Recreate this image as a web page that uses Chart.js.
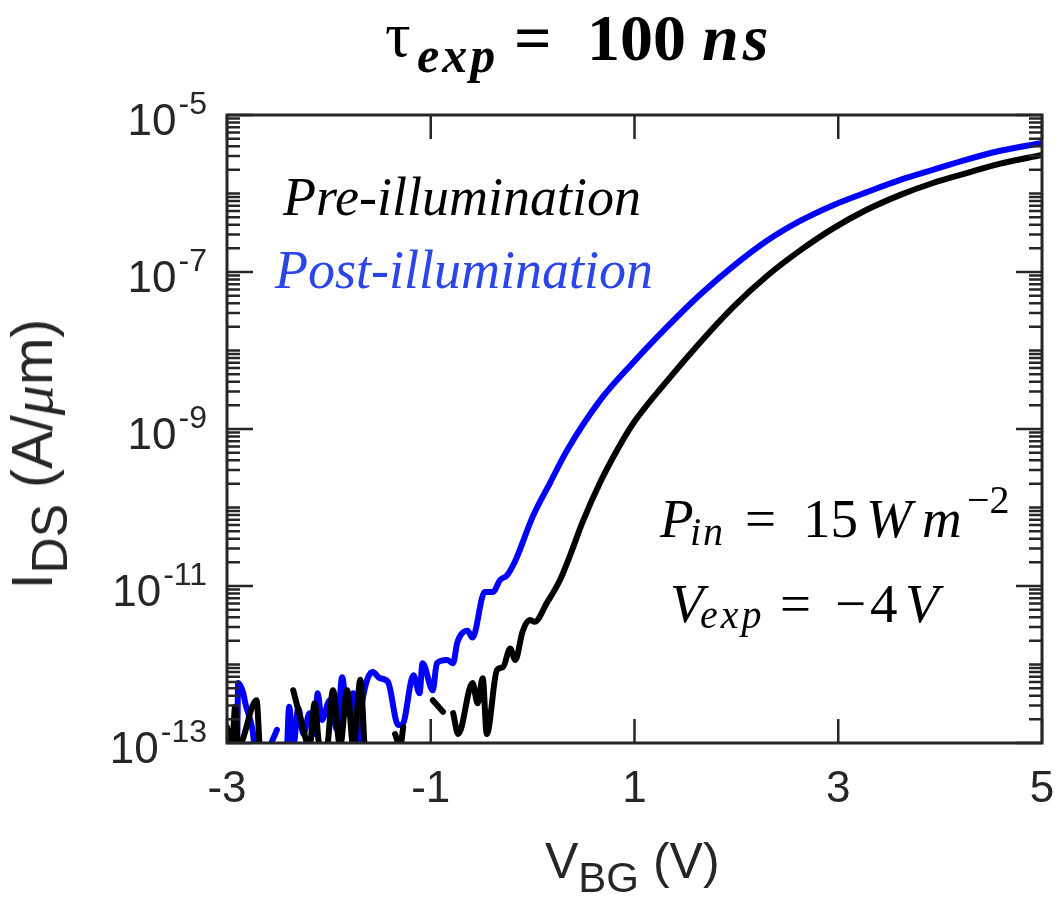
<!DOCTYPE html>
<html>
<head>
<meta charset="utf-8">
<script src="https://cdn.jsdelivr.net/npm/chart.js@4/dist/chart.umd.min.js"></script>
<style>
  body { margin: 0; background: #fff; }
  #wrap { position: relative; width: 1056px; height: 906px; overflow: hidden; }
  canvas { position: absolute; left: 0; top: 0; }
  .txt { position: absolute; white-space: nowrap; line-height: 1; }
  .sans { font-family: "Liberation Sans", Arial, sans-serif; color: #262626; }
  sub, sup { line-height: 0; }
</style>
</head>
<body>
<div id="wrap">
  <canvas id="chart" width="1056" height="906"></canvas>
  <div class="txt sans" style="left:545px; top:836px; font-size:50px;">V<sub style="font-size:42px; vertical-align:-14px;">BG</sub> (V)</div>
  <div class="txt sans" style="left:32px; top:454px; font-size:57px; transform: translate(-50%,-50%) rotate(-90deg);">I<sub style="font-size:50px; vertical-align:-15px;">DS</sub> (A/<i style="font-family:'Liberation Serif',serif; font-size:60px;">μ</i>m)</div>
</div>

<script>
// Pre-illumination (black) : gate voltage (V) and drain current (A/um)
const preV = [-3.00, -2.95, -2.92, -2.89, -2.71, -2.68, -2.50, -2.35, -2.28, -2.19,
  -2.14, -2.09, -2.02, -1.96, -1.89, -1.82, -1.76, -1.69, -1.65, -1.50,
  -1.35, -1.30, -1.27, -1.12, -0.98, -0.88, -0.83, -0.78, -0.73, -0.59,
  -0.54, -0.49, -0.45, -0.35, -0.29, -0.22, -0.17, -0.10, -0.03, 0.02,
  0.14, 0.27, 0.37, 0.49, 0.66, 0.83, 0.99, 1.32, 1.64, 1.97,
  2.30, 2.63, 2.95, 3.28, 3.61, 3.93, 4.26, 4.59, 5.00];
const preI = [1.6e-13, 9e-14, 2.9e-13, 9e-14, 3.5e-13, 9e-14, null, 4.7e-13, 2.1e-13, 9e-14,
  3.2e-13, 9e-14, 9e-14, 4.7e-13, 9e-14, 4.7e-13, 9e-14, 6.4e-13, 9e-14, null,
  1.3e-13, 9e-14, 1.6e-13, null, 3.5e-13, 2.5e-13, null, 2.4e-13, 1.3e-13, 5.8e-13,
  3.2e-13, 6.7e-13, 1.3e-13, 8.5e-13, 9.3e-13, 1.6e-12, 1.14e-12, 2.6e-12, 3.7e-12, 3.5e-12,
  6.1e-12, 1.2e-11, 2.5e-11, 6.5e-11, 2.05e-10, 5.4e-10, 1.19e-9, 4.1e-9, 1.25e-8, 3.6e-8,
  8.9e-8, 1.9e-7, 3.6e-7, 6.2e-7, 9.6e-7, 1.36e-6, 1.82e-6, 2.4e-6, 3.1e-6];

// Post-illumination (blue)
const postV = [-2.90, -2.89, -2.84, -2.82, -2.75, -2.73, -2.62, -2.58, -2.51, -2.46,
  -2.41, -2.39, -2.35, -2.30, -2.25, -2.19, -2.14, -2.11, -2.07, -1.99,
  -1.92, -1.87, -1.82, -1.76, -1.72, -1.67, -1.57, -1.50, -1.42, -1.32,
  -1.28, -1.17, -1.11, -1.08, -0.98, -0.94, -0.84, -0.78, -0.74, -0.64,
  -0.59, -0.47, -0.39, -0.32, -0.25, -0.17, 0.00, 0.17, 0.34, 0.66,
  0.99, 1.32, 1.64, 1.97, 2.30, 2.63, 2.95, 3.28, 3.61, 3.93,
  4.26, 4.59, 5.00];
const postI = [9e-14, 5.8e-13, 4.3e-13, 3.2e-13, 1.47e-13, 9e-14, null, 9e-14, 1.47e-13, null,
  9e-14, 2.9e-13, 9e-14, 2.8e-13, 1.3e-13, 2.4e-13, 1.3e-13, 4.3e-13, 1.96e-13, 3.5e-13,
  1.47e-13, 6.9e-13, 2.4e-13, 4.3e-13, 9e-14, 3.5e-13, 8.0e-13, 6.7e-13, 6.0e-13, 1.7e-13,
  1.7e-13, 7.3e-13, 4.3e-13, 1.04e-12, 4.7e-13, 1.04e-12, 1.14e-12, 1.04e-12, 1.9e-12, 2.7e-12,
  2.2e-12, 8.4e-12, 8.4e-12, 1.19e-11, 1.38e-11, 2.1e-11, 7.6e-11, 2.05e-10, 5.4e-10, 2.3e-9,
  7.1e-9, 2.0e-8, 5.1e-8, 1.19e-7, 2.5e-7, 4.5e-7, 7.1e-7, 1.04e-6, 1.49e-6, 2.0e-6,
  2.7e-6, 3.5e-6, 4.4e-6];

// Axis ticks
const xTicks = [-3, -1, 1, 3, 5];
const xTickLabels = ['-3', '-1', '1', '3', '5'];
const yMajorExps = [-13, -11, -9, -7, -5];
const yTickLabels = ['-13', '-11', '-9', '-7', '-5'];

const axisColor = '#262626';
const wrap = document.getElementById('wrap');

// place a text piece with its baseline at y (Liberation Serif metrics)
function piece(text, x, baseline, size, opts) {
  opts = opts || {};
  const d = document.createElement('div');
  d.className = 'txt';
  d.textContent = text;
  d.style.fontFamily = '"Liberation Serif", "DejaVu Serif", serif';
  d.style.fontSize = size + 'px';
  d.style.left = x + 'px';
  d.style.top = (baseline - 0.8375 * size) + 'px';
  d.style.color = opts.color || '#000';
  if (opts.italic) d.style.fontStyle = 'italic';
  if (opts.bold) d.style.fontWeight = 'bold';
  if (opts.spacing) d.style.letterSpacing = opts.spacing + 'px';
  wrap.appendChild(d);
}

// title
piece('τ', 385, 57, 64);
piece('exp', 417, 72, 50, { bold: true, italic: true, spacing: 3 });
piece('=', 514, 60, 66, { bold: true });
piece('100', 587, 60, 66, { bold: true });
piece('ns', 702, 60, 66, { bold: true, italic: true, spacing: 4 });

// legend texts
piece('Pre-illumination', 283, 215, 54, { italic: true });
piece('Post-illumination', 275, 288, 54, { italic: true, color: '#2a45e8' });

// annotations
piece('P', 660, 537, 55, { italic: true });
piece('in', 690, 545, 40, { italic: true, spacing: 2 });
piece('=', 745, 537, 55);
piece('15', 803, 537, 55);
piece('W', 866, 537, 55, { italic: true });
piece('m', 922, 537, 55, { italic: true });
piece('−2', 967, 513, 40);

piece('V', 670, 622, 55, { italic: true });
piece('exp', 700, 628, 40, { italic: true, spacing: 3 });
piece('=', 780, 622, 55);
piece('−4', 835, 622, 55, { spacing: 4 });
piece('V', 905, 622, 55, { italic: true });

function toPoints(xs, ys) {
  return xs.map((x, i) => ({ x: x, y: ys[i] }));
}

// Box, inward ticks on all four sides and tick labels
const axesPlugin = {
  id: 'matlabAxes',
  afterDatasetsDraw(chart) {
    const ctx = chart.ctx;
    const a = chart.chartArea;
    const xs = chart.scales.x;
    const ys = chart.scales.y;
    ctx.save();
    ctx.strokeStyle = axisColor;
    ctx.lineWidth = 2.5;

    // x ticks (bottom and top)
    xTicks.forEach(v => {
      const px = xs.getPixelForValue(v);
      ctx.beginPath();
      ctx.moveTo(px, a.bottom); ctx.lineTo(px, a.bottom - 24);
      ctx.moveTo(px, a.top); ctx.lineTo(px, a.top + 24);
      ctx.stroke();
    });

    // y ticks (left and right)
    for (let e = -13; e <= -5; e++) {
      const major = yMajorExps.includes(e);
      const py = ys.getPixelForValue(Math.pow(10, e));
      const len = major ? 26 : 13;
      ctx.beginPath();
      ctx.moveTo(a.left, py); ctx.lineTo(a.left + len, py);
      ctx.moveTo(a.right, py); ctx.lineTo(a.right - len, py);
      ctx.stroke();
      if (e === -5) break;
      for (let k = 2; k <= 9; k++) {
        const pm = ys.getPixelForValue(k * Math.pow(10, e));
        ctx.beginPath();
        ctx.moveTo(a.left, pm); ctx.lineTo(a.left + 13, pm);
        ctx.moveTo(a.right, pm); ctx.lineTo(a.right - 13, pm);
        ctx.stroke();
      }
    }

    // frame
    ctx.lineWidth = 3;
    ctx.strokeRect(a.left, a.top, a.right - a.left, a.bottom - a.top);

    // tick labels
    ctx.fillStyle = axisColor;
    ctx.font = '44px "Liberation Sans", Arial, sans-serif';
    ctx.textAlign = 'center';
    ctx.textBaseline = 'middle';
    xTicks.forEach((v, i) => {
      ctx.fillText(xTickLabels[i], xs.getPixelForValue(v), a.bottom + 47);
    });

    yMajorExps.forEach((e, i) => {
      const py = ys.getPixelForValue(Math.pow(10, e));
      const right = a.left - 20;
      ctx.font = '32px "Liberation Sans", Arial, sans-serif';
      const supW = ctx.measureText(yTickLabels[i]).width;
      ctx.textAlign = 'right';
      ctx.fillText(yTickLabels[i], right, py - 10);
      ctx.font = '44px "Liberation Sans", Arial, sans-serif';
      ctx.fillText('10', right - supW - 2, py + 8);
    });
    ctx.restore();
  }
};

new Chart(document.getElementById('chart'), {
  type: 'line',
  data: {
    datasets: [
      {
        label: 'Pre-illumination',
        data: toPoints(preV, preI),
        borderColor: '#000000',
        borderWidth: 6,
        pointRadius: 0,
        spanGaps: false,
        clip: 0
      },
      {
        label: 'Post-illumination',
        data: toPoints(postV, postI),
        borderColor: '#0000ff',
        borderWidth: 6,
        pointRadius: 0,
        spanGaps: false,
        clip: 0
      }
    ]
  },
  options: {
    responsive: false,
    animation: false,
    layout: { padding: { left: 227, right: 14, top: 115, bottom: 163 } },
    scales: {
      x: { type: 'linear', min: -3, max: 5, display: false },
      y: { type: 'logarithmic', min: 1e-13, max: 1e-5, display: false }
    },
    plugins: {
      legend: { display: false },
      tooltip: { enabled: false }
    },
    elements: { line: { cubicInterpolationMode: 'monotone', borderJoinStyle: 'round', borderCapStyle: 'round' } }
  },
  plugins: [axesPlugin]
});
</script>
</body>
</html>
